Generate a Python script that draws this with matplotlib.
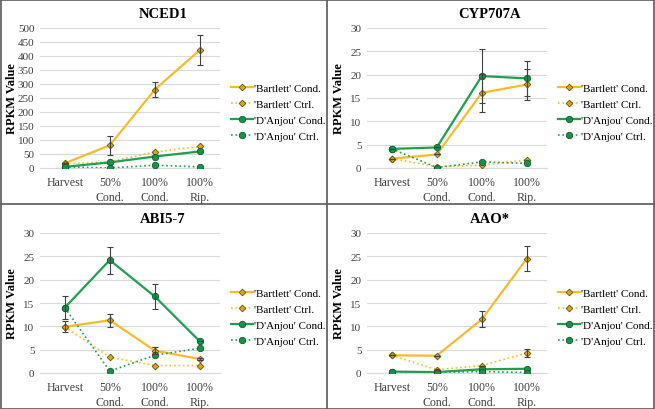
import matplotlib
matplotlib.use('Agg')
import matplotlib.pyplot as plt
from matplotlib.lines import Line2D

plt.rcParams['font.family'] = ['Liberation Serif', 'DejaVu Serif']

# category labels on the x axis
stages = ['Harvest', '50%\nCond.', '100%\nCond.', '100%\nRip.']
series_names = ["'Bartlett' Cond.", "'Bartlett' Ctrl.", "'D'Anjou' Cond.", "'D'Anjou' Ctrl."]

# NCED1
nced1_bart_cond = [17, 81, 280, 421]
nced1_bart_cond_err = [0, 34, 28, 54]
nced1_bart_ctrl = [15, 22, 57, 77]
nced1_anj_cond = [4, 20, 41, 59]
nced1_anj_ctrl = [4, 0, 10, 4]

# CYP707A
cyp_bart_cond = [2.0, 2.9, 16.1, 17.9]
cyp_bart_cond_err = [0, 0, 4.1, 3.4]
cyp_bart_ctrl = [2.0, 0.3, 0.6, 1.7]
cyp_anj_cond = [4.1, 4.4, 19.7, 19.2]
cyp_anj_cond_err = [0, 0, 5.7, 3.7]
cyp_anj_ctrl = [4.1, 0.1, 1.3, 1.0]

# ABI5-7
abi_bart_cond = [9.9, 11.3, 4.8, 3.0]
abi_bart_cond_err = [1.2, 1.4, 0.8, 0.3]
abi_bart_ctrl = [9.9, 3.4, 1.6, 1.6]
abi_anj_cond = [14.0, 24.2, 16.4, 6.8]
abi_anj_cond_err = [2.5, 2.9, 2.6, 0]
abi_anj_ctrl = [14.0, 0.4, 3.8, 5.3]

# AAO*
aao_bart_cond = [3.8, 3.7, 11.5, 24.5]
aao_bart_cond_err = [0, 0, 1.7, 2.7]
aao_bart_ctrl = [3.8, 0.7, 1.6, 4.3]
aao_bart_ctrl_err = [0, 0, 0, 0.8]
aao_anj_cond = [0.3, 0.2, 0.8, 0.9]
aao_anj_ctrl = [0.3, 0.1, 0.3, 0.1]

panels = [
    ('NCED1', 500, 50,
     [(nced1_bart_cond, nced1_bart_cond_err), (nced1_bart_ctrl, None),
      (nced1_anj_cond, None), (nced1_anj_ctrl, None)]),
    ('CYP707A', 30, 5,
     [(cyp_bart_cond, cyp_bart_cond_err), (cyp_bart_ctrl, None),
      (cyp_anj_cond, cyp_anj_cond_err), (cyp_anj_ctrl, None)]),
    ('ABI5-7', 30, 5,
     [(abi_bart_cond, abi_bart_cond_err), (abi_bart_ctrl, None),
      (abi_anj_cond, abi_anj_cond_err), (abi_anj_ctrl, None)]),
    ('AAO*', 30, 5,
     [(aao_bart_cond, aao_bart_cond_err), (aao_bart_ctrl, aao_bart_ctrl_err),
      (aao_anj_cond, None), (aao_anj_ctrl, None)]),
]

orange = '#FBBA2A'
orange_mk = '#D9A420'
green = '#1FA04F'
green_mk = '#18924A'
styles = [
    dict(color=orange, ls='-', lw=1.6, marker='D', ms=3.4, mfc=orange_mk, mec='#6B5200', mew=0.6),
    dict(color=orange, ls=':', lw=1.2, marker='D', ms=3.4, mfc=orange_mk, mec='#6B5200', mew=0.6),
    dict(color=green, ls='-', lw=1.6, marker='o', ms=4.6, mfc=green_mk, mec='#0D5C2C', mew=0.6),
    dict(color=green, ls=':', lw=1.2, marker='o', ms=4.6, mfc=green_mk, mec='#0D5C2C', mew=0.6),
]

W, H = 655, 410
fig = plt.figure(figsize=(6.55, 4.10), dpi=100)

x = list(range(len(stages)))
for i, (title, ymax, step, data) in enumerate(panels):
    ox = 327 * (i % 2)
    oy = 205 * (i // 2)
    ax = fig.add_axes([(ox + 40) / W, 1 - (oy + 169) / H, 180 / W, 140 / H])
    for (vals, err), st in zip(data, styles):
        ax.plot(x, vals, zorder=3, **st)
        if err is not None:
            ax.errorbar(x, vals, yerr=err, fmt='none', ecolor='#404040',
                        elinewidth=0.8, capsize=2, capthick=0.8, zorder=4)
    ax.set_xlim(-0.55, 3.45)
    ax.set_ylim(0, ymax)
    ax.set_yticks(range(0, ymax + 1, step))
    ax.set_xticks(x)
    ax.set_xticklabels(stages, linespacing=1.3)
    ax.grid(axis='y', color='#D9D9D9', lw=0.8)
    ax.set_axisbelow(True)
    for s in ['top', 'right', 'left']:
        ax.spines[s].set_visible(False)
    ax.spines['bottom'].set_color('#D9D9D9')
    ax.tick_params(axis='y', length=0, labelsize=8, colors='#404040', pad=4)
    ax.tick_params(axis='x', length=0, labelsize=8.6, colors='#404040', pad=6)
    ax.set_ylabel('RPKM Value', fontsize=9, fontweight='bold')
    ax.yaxis.set_label_coords(-0.122, 0.5)
    fig.text((ox + 163) / W, 1 - (oy + 15) / H, title, ha='center', va='center',
             fontsize=10.5, fontweight='bold')
    handles = [Line2D([], [], **st) for st in styles]
    ax.legend(handles, series_names, loc='center left', bbox_to_anchor=(1.03, 0.4),
              frameon=False, fontsize=8, handlelength=2.0, handletextpad=0.1,
              labelspacing=0.55, borderpad=0)

# panel borders
border = '#595959'
fig.add_artist(Line2D([327 / W, 327 / W], [0, 1], color=border, lw=1.2))
fig.add_artist(Line2D([0, 1], [1 - 205 / H, 1 - 205 / H], color=border, lw=1.2))
fig.add_artist(plt.Rectangle((0.001, 0.001), 0.997, 0.997, fill=False, ec=border, lw=1.2,
                             transform=fig.transFigure))

fig.savefig('out.png', dpi=100)
